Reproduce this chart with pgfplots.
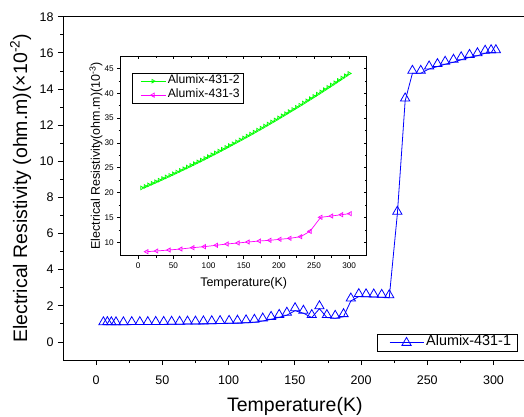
\documentclass[border=0pt]{standalone}
\usepackage{fontspec}
\setmainfont{Liberation Sans}
\usepackage{pgfplots}
\pgfplotsset{compat=1.18}
\definecolor{oblue}{RGB}{0,0,255}
\definecolor{ogreen}{RGB}{0,255,0}
\definecolor{omag}{RGB}{255,0,255}
\begin{document}
\begin{tikzpicture}[x=1pt,y=1pt]
\useasboundingbox (0,0) rectangle (524,416);
\clip (0,0) rectangle (524,416);
% ---------------- main axis ----------------
\begin{axis}[
  at={(63pt,56pt)}, anchor=south west, scale only axis,
  width=463.6pt, height=343.3pt,
  xmin=-25, xmax=325, ymin=-1, ymax=18,
  xtick={0,50,...,300}, minor x tick num=1,
  ytick={0,2,...,18}, minor y tick num=1,
  xtick pos=left, ytick pos=left,
  tick align=outside,
  major tick length=5pt, minor tick length=3pt,
  tick style={black, line width=0.8pt},
  axis line style={line width=0.8pt},
  /pgf/number format/assume math mode=true,
  ticklabel style={font=\fontsize{12.5}{14}\selectfont},
  xticklabel style={yshift=-7pt},
  yticklabel style={xshift=-1pt},
  xlabel={Temperature(K)},
  ylabel={Electrical Resistivity (ohm.m)(×10\textsuperscript{-2})},
  label style={font=\fontsize{19.5}{22}\selectfont},
  xlabel style={at={(axis description cs:0.5,-0.134)}, anchor=center},
  ylabel style={at={(axis description cs:-0.0912,0.5)}, anchor=center},
  legend style={at={(0.982,0.0757)}, anchor=north east, draw=black, line width=0.8pt,
    font=\fontsize{14.4}{16}\selectfont, inner xsep=4.5pt, inner ysep=1pt,
    nodes={inner sep=2.3pt, text height=0.75em, text depth=0.25em}},
  legend image code/.code={\path (-7pt,0pt); \draw[mark repeat=2,mark phase=2,#1,mark options={solid}] plot coordinates {(0pt,0pt) (17pt,0pt) (34pt,0pt)};},
]
\addplot[color=oblue, line width=0.8pt, mark=triangle, mark size=5.3pt, mark options={solid, yshift=2.65pt}] coordinates {
(5.5,0.95) (8.5,0.96) (11.5,0.95) (15.0,0.95) (20.6,0.95) (26.9,0.96) (33.0,0.96) (39.0,0.96)
(45.0,0.97) (51.0,0.97) (57.0,0.98) (63.0,0.98) (69.0,0.99) (75.0,0.99) (81.0,1.00) (87.3,1.01)
(93.6,1.02) (100.4,1.03) (106.7,1.04) (113.2,1.06) (119.5,1.09) (125.8,1.16) (132.1,1.25) (138.2,1.36)
(144.0,1.48) (150.2,1.73) (156.5,1.59) (162.8,1.35) (168.6,1.84) (174.2,1.35) (180.5,1.31) (186.8,1.40)
(192.3,2.27) (198.3,2.51) (203.8,2.50) (209.6,2.49) (215.6,2.47) (221.3,2.45) (227.4,7.07) (233.3,13.34)
(238.8,14.87) (245.1,14.87) (251.4,15.11) (257.7,15.24) (263.5,15.37) (269.8,15.48) (275.6,15.62) (281.9,15.75)
(287.9,15.84) (293.7,15.98) (298.2,16.01) (301.8,16.01)
};
\addlegendentry{Alumix-431-1}
\end{axis}
% ---------------- inset ----------------
\begin{axis}[
  at={(120.7pt,160.3pt)}, anchor=south west, scale only axis,
  width=246pt, height=199.7pt,
  xmin=-25, xmax=325, ymin=7.3, ymax=47.5,
  axis background/.style={fill=white},
  xtick={0,50,...,300}, minor x tick num=1,
  ytick={10,15,...,45}, minor y tick num=1,
  xtick pos=left, ytick pos=left,
  tick align=outside,
  major tick length=3.5pt, minor tick length=2pt,
  tick style={black, line width=0.6pt},
  axis line style={line width=0.8pt},
  /pgf/number format/assume math mode=true,
  ticklabel style={font=\fontsize{8.2}{9}\selectfont},
  xlabel={Temperature(K)},
  ylabel={Electrical Resistivity(ohm.m)(10\textsuperscript{-3})},
  label style={font=\fontsize{12.5}{14}\selectfont},
  xlabel style={at={(axis description cs:0.5,-0.138)}, anchor=center},
  ylabel style={at={(axis description cs:-0.1004,0.5)}, anchor=center},
  legend style={at={(0.047,0.916)}, anchor=north west, draw=black, line width=0.8pt,
    font=\fontsize{12.2}{14}\selectfont, inner xsep=1.5pt, inner ysep=1pt,
    nodes={inner sep=2pt, text height=0.75em, text depth=0.25em}, row sep=0pt},
  legend image code/.code={\path (-6pt,0pt); \draw[mark repeat=2,mark phase=2,#1] plot coordinates {(0pt,0pt) (12.5pt,0pt) (25pt,0pt)};},
]
\addplot[color=ogreen, line width=0.7pt, mark=triangle, mark size=2.1pt, mark options={solid, rotate=-90}] coordinates {
(5,20.95) (10,21.25) (15,21.56) (20,21.87) (25,22.19) (30,22.50) (35,22.83) (40,23.15) (45,23.47) (50,23.80)
(55,24.14) (60,24.47) (65,24.81) (70,25.15) (75,25.49) (80,25.84) (85,26.19) (90,26.54) (95,26.90) (100,27.25)
(105,27.62) (110,27.98) (115,28.35) (120,28.72) (125,29.09) (130,29.47) (135,29.85) (140,30.23) (145,30.61) (150,31.00)
(155,31.39) (160,31.78) (165,32.18) (170,32.58) (175,32.98) (180,33.39) (185,33.80) (190,34.21) (195,34.62) (200,35.04)
(205,35.46) (210,35.88) (215,36.31) (220,36.74) (225,37.17) (230,37.60) (235,38.04) (240,38.48) (245,38.92) (250,39.37)
(255,39.82) (260,40.27) (265,40.73) (270,41.19) (275,41.65) (280,42.11) (285,42.58) (290,43.05) (295,43.52) (300,43.99)
};
\addlegendentry{Alumix-431-2}
\addplot[color=omag, line width=0.7pt, mark=triangle, mark size=2.4pt, mark options={solid, rotate=90}] coordinates {
(12.0,8.11) (26.2,8.25) (43.8,8.45) (60.5,8.65) (77.6,8.92) (93.8,9.12) (111.0,9.40) (126.2,9.66)
(141.9,9.86) (156.2,10.06) (172.4,10.26) (187.1,10.40) (201.4,10.60) (215.7,10.80) (231.0,11.13) (244.3,12.21)
(259.6,15.03) (274.9,15.29) (289.1,15.56) (301.4,15.77)
};
\addlegendentry{Alumix-431-3}
\end{axis}
% inset top/right inner ticks
\begin{axis}[
  at={(120.7pt,160.3pt)}, anchor=south west, scale only axis,
  width=246pt, height=199.7pt,
  xmin=-25, xmax=325, ymin=7.3, ymax=47.5,
  xtick={0,50,...,300}, minor x tick num=1,
  ytick={10,15,...,45}, minor y tick num=1,
  xtick pos=right, ytick pos=right,
  tick align=inside, xticklabels={}, yticklabels={},
  major tick length=3pt, minor tick length=1.8pt,
  tick style={black, line width=0.6pt},
  axis line style={line width=0.8pt},
]
\end{axis}
\end{tikzpicture}
\end{document}
